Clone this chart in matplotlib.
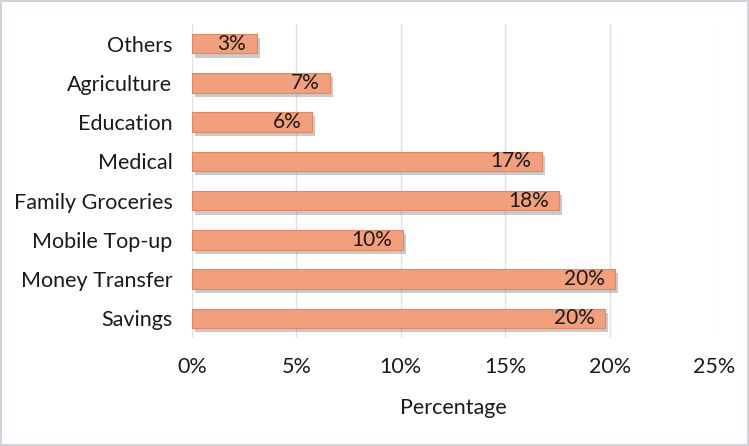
import matplotlib.pyplot as plt
import matplotlib.patheffects as pe
from matplotlib.patches import Rectangle
from matplotlib.ticker import PercentFormatter

plt.rcParams['font.family'] = ['Lato', 'DejaVu Sans']

# Data (top to bottom in the chart)
categories = ['Others', 'Agriculture', 'Education', 'Medical', 'Family Groceries',
              'Mobile Top-up', 'Money Transfer', 'Savings']
values = [3.1, 6.6, 5.75, 16.75, 17.6, 10.1, 20.25, 19.8]
labels = ['3%', '7%', '6%', '17%', '18%', '10%', '20%', '20%']

fig = plt.figure(figsize=(7.49, 4.46), dpi=100)
ax = fig.add_axes([192 / 749, 1 - 338 / 446, (714 - 192) / 749, (338 - 24) / 446])

ypos = list(range(len(categories)))[::-1]
bars = ax.barh(ypos, values, height=0.5, color='#F29F7C', edgecolor='#DE8866',
               linewidth=0.8, zorder=3)
for b in bars:
    b.set_path_effects([pe.SimplePatchShadow(offset=(2, -3), shadow_rgbFace='#8a8a8a', alpha=0.45),
                        pe.Normal()])

for y, v, lab in zip(ypos, values, labels):
    ax.text(v - 0.5, y, lab, ha='right', va='center', fontsize=15, color='#1a1a1a', zorder=4)

ax.set_xlim(0, 25)
ax.set_ylim(-0.5, len(categories) - 0.5)
ax.set_xticks(range(0, 26, 5))
ax.xaxis.set_major_formatter(PercentFormatter(decimals=0))
ax.set_yticks(ypos)
ax.set_yticklabels(categories)
ax.tick_params(axis='both', length=0, labelsize=15.5, colors='#1a1a1a')
ax.tick_params(axis='x', pad=14)
ax.tick_params(axis='y', pad=14)
ax.grid(axis='x', color='#DCE1EA', linewidth=1, zorder=0)
for s in ax.spines.values():
    s.set_visible(False)
ax.set_xlabel('Percentage', fontsize=15.5, color='#1a1a1a', labelpad=15)

# light frame around the whole picture
fig.patches.append(Rectangle((0.002, 0.003), 0.996, 0.994, transform=fig.transFigure,
                             fill=False, edgecolor='#D0D4DA', linewidth=1.5))

fig.savefig('out.png', dpi=100)
